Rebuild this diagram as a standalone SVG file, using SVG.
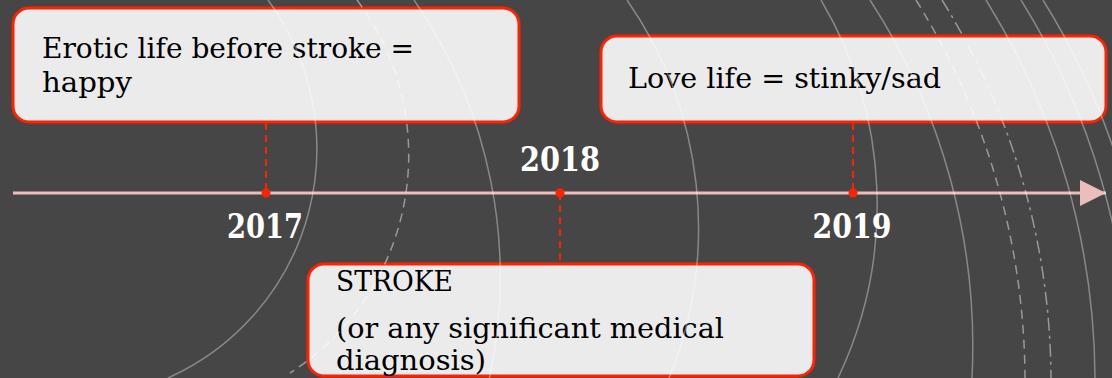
<svg xmlns="http://www.w3.org/2000/svg" width="1112" height="378" viewBox="0 0 1112 378">
  <style>
    .box { fill: #EBEBEB; stroke: #FF2200; stroke-width: 3; }
    .txt { font-family: "DejaVu Serif", "Liberation Serif", serif; font-size: 28px; fill: #000; }
    .year { font-family: "DejaVu Serif", "Liberation Serif", serif; font-size: 33px; font-weight: bold; fill: #FFFFFF; text-anchor: middle; }
    .lead { stroke: #FF2200; stroke-width: 2; stroke-dasharray: 7 5; fill: none; }
    .dot { fill: #FF2200; }
    .arc { fill: none; stroke: #FFFFFF; stroke-width: 1.5; stroke-opacity: 0.36; }
    .dash { stroke-dasharray: 9 6; stroke-opacity: 0.45; }
    .dashdot { stroke-dasharray: 13 5 3 5; stroke-opacity: 0.45; }
  </style>
  <defs>
    <marker id="arrow" viewBox="0 0 26 26" refX="26" refY="13" markerWidth="26" markerHeight="26" markerUnits="userSpaceOnUse" orient="auto">
      <path d="M0,0 L26,13 L0,26 Z" fill="#EBBDBB"/>
    </marker>
  </defs>
  <rect x="0" y="0" width="1112" height="378" fill="#464646"/>

  <g id="connectors">
    <line x1="13" y1="193" x2="1106" y2="193" stroke="#EBBDBB" stroke-width="3" marker-end="url(#arrow)"/>
    <line class="lead" x1="266" y1="123" x2="266" y2="193"/>
    <line class="lead" x1="560" y1="193" x2="560" y2="264"/>
    <line class="lead" x1="853" y1="123" x2="853" y2="193"/>
    <circle class="dot" cx="266" cy="193" r="4.5"/>
    <circle class="dot" cx="560" cy="193" r="4.5"/>
    <circle class="dot" cx="853" cy="193" r="4.5"/>
  </g>

  <g id="year-2017"><text class="year" x="265" y="238" textLength="76" lengthAdjust="spacingAndGlyphs">2017</text></g>
  <g id="year-2018"><text class="year" x="560" y="171" textLength="80" lengthAdjust="spacingAndGlyphs">2018</text></g>
  <g id="year-2019"><text class="year" x="852" y="238" textLength="79" lengthAdjust="spacingAndGlyphs">2019</text></g>

  <g id="node-before">
    <rect class="box" x="13" y="8" width="506" height="114" rx="16"/>
    <text class="txt" x="42" y="58" textLength="372" lengthAdjust="spacingAndGlyphs">Erotic life before stroke =</text>
    <text class="txt" x="42" y="92" textLength="90" lengthAdjust="spacingAndGlyphs">happy</text>
  </g>

  <g id="node-after">
    <rect class="box" x="601" y="36" width="505" height="86" rx="16"/>
    <text class="txt" x="628" y="88" textLength="313" lengthAdjust="spacingAndGlyphs">Love life = stinky/sad</text>
  </g>

  <g id="node-stroke">
    <rect class="box" x="308" y="264" width="506" height="112" rx="16"/>
    <text class="txt" x="336" y="291" textLength="117" lengthAdjust="spacingAndGlyphs">STROKE</text>
    <text class="txt" x="336" y="338" textLength="388" lengthAdjust="spacingAndGlyphs">(or any significant medical</text>
    <text class="txt" x="336" y="370" textLength="150" lengthAdjust="spacingAndGlyphs">diagnosis)</text>
  </g>

  <g id="background-arcs">
    <path class="arc" d="M268,0 A251,251 0 0 1 168,378"/>
    <path class="arc dash" d="M357,0 A259,259 0 0 1 290,373"/>
    <path class="arc" d="M414,0 A486.5,486.5 0 0 1 489.5,378"/>
    <path class="arc" d="M627,0 A398,398 0 0 1 669,378"/>
    <path class="arc" d="M821,0 A402,402 0 0 1 838,378"/>
    <path class="arc" d="M870,0 A635,635 0 0 1 972,378"/>
    <path class="arc dash" d="M916,0 A722,722 0 0 1 1025,378"/>
    <path class="arc dashdot" d="M942,0 A722,722 0 0 1 1051,378"/>
    <path class="arc" d="M986,0 A722,722 0 0 1 1095,378"/>
    <path class="arc" d="M1021,0 A722,722 0 0 1 1130,378"/>
    <path class="arc" d="M1043,0 A722,722 0 0 1 1152,378"/>
  </g>
</svg>
